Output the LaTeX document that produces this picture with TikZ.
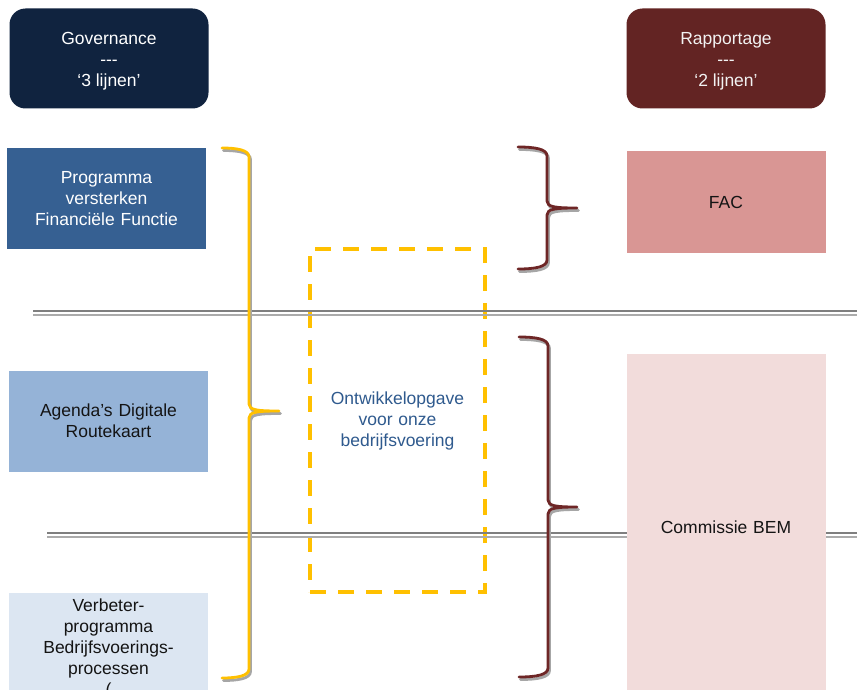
\documentclass[tikz,border=0pt]{standalone}
\usepackage{fontspec}
\setmainfont{Liberation Sans}
\definecolor{navy}{HTML}{10233F}
\definecolor{wine}{HTML}{632423}
\definecolor{boxblue}{HTML}{366092}
\definecolor{midblue}{HTML}{95B3D7}
\definecolor{paleblue}{HTML}{DCE6F2}
\definecolor{rose}{HTML}{D99694}
\definecolor{palerose}{HTML}{F2DCDB}
\definecolor{gold}{HTML}{FFC000}
\definecolor{bracered}{HTML}{6E2626}
\definecolor{textblue}{HTML}{2F5A8E}
\definecolor{shadowgray}{HTML}{A6A6A6}
\definecolor{sepdark}{HTML}{7F7F7F}
\definecolor{seplight}{HTML}{ABABAB}
\definecolor{darktext}{HTML}{141414}
\tikzset{
  txt/.style={font=\fontsize{17.5}{21}\selectfont},
  box/.style={txt, draw=none, minimum width=199pt, minimum height=101pt, inner sep=0pt, text width=192pt, align=center},
  hdr/.style={draw=none, rounded corners=16pt, minimum width=199pt, minimum height=100pt, inner sep=0pt},
  hdrtxt/.style={txt, align=center, inner sep=0pt},
  sepdk/.style={sepdark, line width=2pt},
  seplt/.style={seplight, line width=2pt},
  dashbox/.style={draw=gold, line width=4pt, dash pattern=on 16pt off 12pt, minimum width=175pt, minimum height=343pt, inner sep=0pt, text width=170pt, align=center, txt, text=textblue},
}
\newcommand\mybrace[7]{%
  \foreach \dx/\dy/\col in {1.5/2.5/shadowgray, 0/0/#1} {
    \draw[line width=2.8pt, color=\col, shift={(\dx,\dy)}, line cap=round, line join=round]
      (#2,#5) .. controls ({#3-12},#5) and (#3,{#5+2}) .. (#3,{#5+9})
      -- (#3,{#6-7}) .. controls (#3,{#6-1}) and ({#3+8},#6) .. (#4,#6)
      .. controls ({#3+8},#6) and (#3,{#6+1}) .. (#3,{#6+7})
      -- (#3,{#7-9}) .. controls (#3,{#7-2}) and ({#3-12},#7) .. (#2,#7);
  }%
}
\begin{document}
\begin{tikzpicture}[x=1pt,y=-1pt]
\useasboundingbox (0,0) rectangle (857,690);
\fill[white] (0,0) rectangle (857,690);
\clip (0,0) rectangle (857,690);

% dashed development box
\node[dashbox] (ontw) at (397.5,420.5) {Ontwikkelopgave\\voor onze\\bedrijfsvoering};

% separator lines
\coordinate (s1a) at (33,311);  \coordinate (s1b) at (857,311);
\coordinate (s2a) at (47,533);  \coordinate (s2b) at (857,533);
\draw[sepdk] (s1a) -- (s1b);
\draw[seplt] ([yshift=-3.5pt]s1a) -- ([yshift=-3.5pt]s1b);
\draw[sepdk] (s2a) -- (s2b);
\draw[seplt] ([yshift=-3.5pt]s2a) -- ([yshift=-3.5pt]s2b);

% braces
\mybrace{gold}{222}{249}{279}{148}{411}{678}
\mybrace{bracered}{518}{547}{577}{147}{208}{269}
\mybrace{bracered}{519}{548}{577}{337}{507}{677}

% header boxes
\node[hdr, fill=navy] (gov) at (109,58.5) {};
\node[hdrtxt, text=white] (govtxt) at (109,61) {Governance\\-{}-{}-\\‘3 lijnen’};
\node[hdr, fill=wine] (rap) at (726,58.5) {};
\node[hdrtxt, text=white!95!black] (raptxt) at (726,61) {Rapportage\\-{}-{}-\\‘2 lijnen’};

% left boxes
\node[box, fill=boxblue, text=white] (prog) at (106.5,198.5) {Programma\\versterken\\Financiële Functie};
\node[box, fill=midblue, text=darktext] (agenda) at (108.5,421) {Agenda’s Digitale\\Routekaart};
\node[box, fill=paleblue, text=darktext, minimum height=112pt] (verb) at (108.5,649) {Verbeter-\\programma\\Bedrijfsvoerings-\\processen\\(};

% right boxes
\node[box, fill=rose, text=darktext] (fac) at (726,202) {FAC};
\node[box, fill=palerose, text=darktext, minimum height=346pt] (bem) at (726,527) {Commissie BEM};
\end{tikzpicture}
\end{document}
